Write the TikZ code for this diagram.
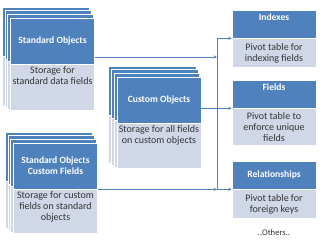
\documentclass[tikz,border=0pt]{standalone}
\usepackage{fontspec}
\setmainfont{Carlito}
\usetikzlibrary{arrows.meta, positioning, backgrounds}
\definecolor{HeadBlue}{RGB}{79, 129, 189}
\definecolor{BodyBlue}{RGB}{208, 216, 232}
\tikzset{
    headbox/.style={
        rectangle, draw=white, fill=HeadBlue, line width=0.6pt, text=white,
        align=center, minimum width=84pt, inner sep=0pt,
        font=\fontsize{9.6}{11}\selectfont\bfseries
    },
    bodybox/.style={
        rectangle, draw=white, fill=BodyBlue, line width=0.6pt, text=black!80,
        align=center, minimum width=84pt, inner sep=0pt,
        font=\fontsize{10}{11}\selectfont
    },
    bodytext/.style={text=black!80, align=center, inner sep=1pt, font=\fontsize{10}{11}\selectfont},
    arrow/.style={-{Stealth[length=3.5pt, width=3pt]}, line width=0.6pt, color=HeadBlue},
    link/.style={line width=0.6pt, color=HeadBlue},
}

\begin{document}
\begin{tikzpicture}[x=1pt, y=-1pt]
                \useasboundingbox (0,0) rectangle (320,241);

                % Object stacks
                \node[headbox, minimum height=46pt] (stdobj) at (52.5,41) {Standard Objects};
                \node[bodybox, minimum height=46pt, below=0pt of stdobj] (stdobj-body) {};
                \node[bodytext, below=1pt of stdobj-body.north] (stdobj-text) {Storage for\\standard data fields};

                \node[headbox, minimum height=46pt] (custobj) at (159,100) {Custom Objects};
                \node[bodybox, minimum height=45pt, below=0pt of custobj] (custobj-body) {};
                \node[bodytext, below=1pt of custobj-body.north] (custobj-text) {Storage for all fields\\on custom objects};

                \node[headbox, minimum height=46pt] (stdfld) at (55.5,166) {Standard Objects\\Custom Fields};
                \node[bodybox, minimum height=44pt, below=0pt of stdfld] (stdfld-body) {};
                \node[bodytext, below=1pt of stdfld-body.north] (stdfld-text) {Storage for custom\\fields on standard\\objects};

                \begin{scope}[on background layer]
                    \foreach \grp in {stdobj, custobj, stdfld} {
                        \foreach \k in {3,2,1} {
                            \filldraw[fill=HeadBlue, draw=white, line width=0.6pt]
                                ([shift={(-2.7*\k,-3.5*\k)}]\grp.north west) rectangle ([shift={(-1.7*\k,-2.7*\k)}]\grp.south east);
                            \filldraw[fill=BodyBlue, draw=white, line width=0.6pt]
                                ([shift={(-2.7*\k,-2.7*\k)}]\grp-body.north west) rectangle ([shift={(-1.7*\k,-2*\k)}]\grp-body.south east);
                        }
                    }
                \end{scope}

                % Pivot tables
                \node[headbox, minimum height=28pt, text depth=13pt] (idx) at (274,24) {Indexes};
                \node[bodybox, minimum height=29pt, below=0pt of idx] (idx-body) {Pivot table for\\indexing fields};

                \node[headbox, minimum height=28pt, text depth=13pt] (fld) at (274,94) {Fields};
                \node[bodybox, minimum height=37pt, below=0pt of fld] (fld-body) {Pivot table to\\enforce unique\\fields};

                \node[headbox, minimum height=28pt] (rel) at (274,175) {Relationships};
                \node[bodybox, minimum height=29pt, below=0pt of rel] (rel-body) {Pivot table for\\foreign keys};

                \node[bodytext, font=\fontsize{8.6}{10}\selectfont, below=9pt of rel-body] (others) {..Others..};

                % Connectors
                \coordinate (bus) at (217,0);
                \draw[arrow] ([yshift=-16pt]stdobj.east) -- ([yshift=-16pt]stdobj.east -| bus);
                \draw[link] (bus |- idx.south) -- (bus |- rel.south);
                \draw[arrow] (bus |- idx.south) -- (idx.south west);
                \draw[arrow] (custobj.east |- fld.south west) -- (fld.south west);
                \draw[arrow] (stdfld.south east) -- (stdfld.south east -| bus);
                \draw[arrow] (stdfld.south east -| bus) -- (rel.south west);
            \end{tikzpicture}
\end{document}
